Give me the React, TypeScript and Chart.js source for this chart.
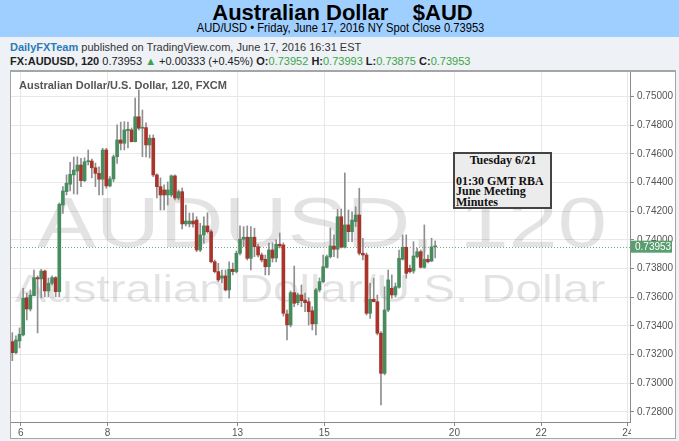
import React, { useEffect, useRef } from "react";
import { Chart, registerables } from "chart.js";

Chart.register(...registerables);

// ---- data (2-hour AUD/USD candles) ----
const opens = [
  0.73290, 0.73213, 0.73295, 0.73337, 0.73597, 0.73518, 0.73611, 0.73737, 0.73728, 0.73783,
  0.73644, 0.73698, 0.73737, 0.73639, 0.74244, 0.74337, 0.74389, 0.74454, 0.74481, 0.74523,
  0.74414, 0.74546, 0.74551, 0.74504, 0.74465, 0.74424, 0.74628, 0.74377, 0.74426, 0.74581,
  0.74698, 0.74675, 0.74763, 0.74768, 0.74686, 0.74860, 0.74780, 0.74784, 0.74663, 0.74710,
  0.74454, 0.74372, 0.74349, 0.74314, 0.74314, 0.74447, 0.74293, 0.74337, 0.74112, 0.74112,
  0.74132, 0.74139, 0.73930, 0.74035, 0.74098, 0.74058, 0.73848, 0.73779, 0.73733, 0.73749,
  0.73651, 0.73795, 0.73779, 0.73907, 0.74005, 0.74019, 0.73872, 0.74019, 0.73953, 0.73895,
  0.73865, 0.73813, 0.73930, 0.73874, 0.73970, 0.73965, 0.73483, 0.73407, 0.73632, 0.73562,
  0.73616, 0.73581, 0.73569, 0.73506, 0.73414, 0.73651, 0.73709, 0.73809, 0.73883, 0.73958,
  0.73935, 0.74162, 0.73949, 0.74105, 0.74058, 0.74128, 0.74174, 0.73907, 0.73895, 0.73488,
  0.73586, 0.73569, 0.73349, 0.73069, 0.73511, 0.73663, 0.73616, 0.73670, 0.73865, 0.73949,
  0.73802, 0.73783, 0.73883, 0.73918, 0.73809, 0.73865, 0.73853, 0.73952,
];
const highs = [
  0.73353, 0.73330, 0.73386, 0.73663, 0.73628, 0.73651, 0.73790, 0.73749, 0.73795, 0.73790,
  0.73735, 0.73749, 0.73744, 0.74258, 0.74372, 0.74454, 0.74542, 0.74579, 0.74581, 0.74570,
  0.74574, 0.74628, 0.74565, 0.74537, 0.74511, 0.74640, 0.74640, 0.74442, 0.74593, 0.74803,
  0.74823, 0.74826, 0.74823, 0.74782, 0.74991, 0.75047, 0.74907, 0.74817, 0.74733, 0.74733,
  0.74461, 0.74433, 0.74384, 0.74405, 0.74454, 0.74454, 0.74349, 0.74363, 0.74244, 0.74188,
  0.74188, 0.74162, 0.74116, 0.74162, 0.74190, 0.74070, 0.73860, 0.73837, 0.73790, 0.73790,
  0.73848, 0.73839, 0.73923, 0.74098, 0.74093, 0.74098, 0.74093, 0.74082, 0.73972, 0.73909,
  0.73895, 0.73979, 0.73979, 0.74000, 0.74049, 0.73979, 0.73511, 0.73644, 0.73818, 0.73630,
  0.73686, 0.73630, 0.73595, 0.73534, 0.73663, 0.73735, 0.73895, 0.73895, 0.74082, 0.74035,
  0.74214, 0.74216, 0.74468, 0.74209, 0.74197, 0.74232, 0.74361, 0.74012, 0.73909, 0.73698,
  0.73733, 0.73616, 0.73360, 0.73674, 0.73790, 0.73756, 0.73700, 0.73930, 0.74035, 0.74035,
  0.73825, 0.73988, 0.73944, 0.73930, 0.74105, 0.73895, 0.74012, 0.73993,
];
const lows = [
  0.73157, 0.73204, 0.73246, 0.73330, 0.73441, 0.73504, 0.73609, 0.73351, 0.73595, 0.73604,
  0.73604, 0.73686, 0.73604, 0.73604, 0.74186, 0.74314, 0.74342, 0.74321, 0.74319, 0.74372,
  0.74407, 0.74523, 0.74433, 0.74372, 0.74314, 0.74314, 0.74361, 0.74370, 0.74407, 0.74535,
  0.74628, 0.74628, 0.74642, 0.74684, 0.74684, 0.74768, 0.74581, 0.74579, 0.74572, 0.74442,
  0.74293, 0.74209, 0.74209, 0.74244, 0.74300, 0.74279, 0.74279, 0.74077, 0.74098, 0.74091,
  0.74090, 0.73918, 0.73918, 0.73977, 0.74047, 0.73839, 0.73770, 0.73709, 0.73700, 0.73644,
  0.73593, 0.73756, 0.73770, 0.73895, 0.73953, 0.73860, 0.73790, 0.73883, 0.73881, 0.73846,
  0.73756, 0.73756, 0.73846, 0.73846, 0.73944, 0.73469, 0.73302, 0.73393, 0.73534, 0.73546,
  0.73534, 0.73499, 0.73407, 0.73372, 0.73337, 0.73637, 0.73700, 0.73804, 0.73874, 0.73883,
  0.73874, 0.73944, 0.73944, 0.73988, 0.73988, 0.74093, 0.73895, 0.73860, 0.73476, 0.73453,
  0.73567, 0.73337, 0.72848, 0.73058, 0.73499, 0.73593, 0.73602, 0.73663, 0.73860, 0.73733,
  0.73770, 0.73767, 0.73874, 0.73804, 0.73802, 0.73839, 0.73848, 0.73875,
];
const closes = [
  0.73213, 0.73302, 0.73342, 0.73593, 0.73518, 0.73616, 0.73737, 0.73728, 0.73783, 0.73644,
  0.73698, 0.73737, 0.73639, 0.74249, 0.74342, 0.74396, 0.74458, 0.74488, 0.74523, 0.74414,
  0.74546, 0.74551, 0.74504, 0.74465, 0.74424, 0.74628, 0.74377, 0.74426, 0.74581, 0.74698,
  0.74675, 0.74768, 0.74773, 0.74686, 0.74860, 0.74780, 0.74784, 0.74663, 0.74710, 0.74454,
  0.74372, 0.74314, 0.74314, 0.74349, 0.74447, 0.74293, 0.74337, 0.74112, 0.74132, 0.74132,
  0.74112, 0.73930, 0.74035, 0.74098, 0.74058, 0.73848, 0.73779, 0.73721, 0.73749, 0.73651,
  0.73795, 0.73779, 0.73907, 0.74005, 0.74019, 0.73872, 0.74019, 0.73953, 0.73895, 0.73860,
  0.73813, 0.73930, 0.73874, 0.73970, 0.73958, 0.73488, 0.73407, 0.73632, 0.73558, 0.73616,
  0.73576, 0.73562, 0.73499, 0.73414, 0.73651, 0.73709, 0.73813, 0.73883, 0.73958, 0.73935,
  0.74162, 0.73949, 0.74105, 0.74058, 0.74139, 0.74174, 0.73907, 0.73895, 0.73488, 0.73586,
  0.73569, 0.73349, 0.73069, 0.73511, 0.73721, 0.73616, 0.73674, 0.73872, 0.73949, 0.73767,
  0.73779, 0.73888, 0.73918, 0.73809, 0.73865, 0.73848, 0.73952, 0.73953,
];

// x axis: day labels and their trading-day index (12 two-hour bars per day)
const dayLabels = ["6", "8", "13", "15", "20", "22", "24"];
const dayIndex = [0, 2, 5, 7, 10, 12, 14];
const BARS_PER_DAY = 12;
const FIRST_DAY_BAR = 2.32;

// y axis tick labels
const yTicks = [0.728, 0.73, 0.732, 0.734, 0.736, 0.738, 0.74, 0.742, 0.744, 0.746, 0.748, 0.75];
const lastPrice = 0.73953;

const GREEN = "#468c5e";
const RED = "#a8352b";

const overlayPlugin = {
  id: "overlay",
  beforeDatasetsDraw(chart: any) {
    const { ctx, chartArea: a } = chart;
    ctx.save();
    ctx.beginPath();
    ctx.rect(a.left, a.top, a.right - a.left, a.bottom - a.top);
    ctx.clip();
    ctx.fillStyle = "rgba(0,0,0,0.11)";
    ctx.textAlign = "center";
    ctx.textBaseline = "alphabetic";
    const stretched = (t: string, cx: number, by: number, font: string, sx: number) => {
      ctx.save();
      ctx.translate(cx, by);
      ctx.scale(sx, 1);
      ctx.font = font;
      ctx.fillText(t, 0, 0);
      ctx.restore();
    };
    stretched("AUDUSD, 120", 322, 247, '71px "Liberation Sans"', 1.245);
    stretched("Australian Dollar/U.S. Dollar", 310, 302, '39px "Liberation Sans"', 1.216);
    // last price dotted line
    const y = Math.round(chart.scales.y.getPixelForValue(lastPrice)) + 0.5;
    ctx.strokeStyle = "#6aae80";
    ctx.lineWidth = 1;
    ctx.setLineDash([1, 2]);
    ctx.beginPath();
    ctx.moveTo(a.left, y);
    ctx.lineTo(a.right, y);
    ctx.stroke();
    ctx.restore();
  },
  afterDraw(chart: any) {
    const { ctx, chartArea: a } = chart;
    const y = chart.scales.y.getPixelForValue(lastPrice);
    ctx.save();
    // the last x label is cut by the price-axis column
    ctx.fillStyle = "#ffffff";
    ctx.fillRect(a.right + 1, a.bottom + 1, 44, 15);
    ctx.fillStyle = "#5a9e70";
    ctx.fillRect(a.right + 1, y - 6, 41, 12);
    ctx.fillStyle = "#ffffff";
    ctx.font = '10px "Liberation Sans"';
    ctx.textBaseline = "middle";
    ctx.textAlign = "left";
    ctx.fillText(lastPrice.toFixed(5), a.right + 5, y + 0.5);
    ctx.restore();
  },
};

export default function App() {
  const ref = useRef<HTMLCanvasElement>(null);

  useEffect(() => {
    const wickData = lows.map((l, i) => ({ x: i, y: [l, highs[i]] }));
    const bodyData = opens.map((o, i) => ({ x: i, y: [o, closes[i]] }));
    const bodyColors = opens.map((o, i) => (closes[i] >= o ? GREEN : RED));

    const chart = new Chart(ref.current!, {
      type: "bar",
      data: {
        datasets: [
          {
            data: bodyData as any,
            backgroundColor: bodyColors,
            barThickness: 3,
            minBarLength: 1,
            grouped: false,
            order: 0,
            borderWidth: 0,
          } as any,
          {
            data: wickData as any,
            backgroundColor: "#8f8f8f",
            barThickness: 1,
            grouped: false,
            order: 1,
            borderWidth: 0,
          } as any,
        ],
      },
      options: {
        responsive: false,
        animation: false,
        events: [],
        devicePixelRatio: 1,
        layout: { padding: { left: 11, top: 72, right: 0, bottom: 0 } },
        plugins: { legend: { display: false }, tooltip: { enabled: false }, title: { display: false } },
        scales: {
          x: {
            type: "linear",
            min: -0.36,
            max: 170.9,
            offset: false,
            afterBuildTicks: (s: any) => {
              s.ticks = dayIndex.map((d) => ({ value: FIRST_DAY_BAR + BARS_PER_DAY * d }));
            },
            afterFit: (s: any) => {
              s.height = 19;
            },
            ticks: {
              autoSkip: false,
              maxRotation: 0,
              padding: 1,
              color: "#555555",
              font: { family: "Liberation Sans", size: 10 },
              callback: (_v: any, i: number) => dayLabels[i],
            },
            grid: { color: "#e8e8e8", tickLength: 4, tickColor: "#8a8a8a", offset: false },
            border: { color: "#8a8a8a" },
          },
          y: {
            type: "linear",
            position: "right",
            min: 0.727292,
            max: 0.751724,
            afterBuildTicks: (s: any) => {
              s.ticks = yTicks.map((v) => ({ value: v }));
            },
            afterFit: (s: any) => {
              s.width = 49;
            },
            ticks: {
              padding: 3,
              color: "#555555",
              font: { family: "Liberation Sans", size: 10 },
              callback: (v: any) => Number(v).toFixed(5),
            },
            grid: { color: "#e8e8e8", tickLength: 4, tickColor: "#8a8a8a" },
            border: { color: "#8a8a8a" },
          },
        },
      },
      plugins: [overlayPlugin],
    });
    return () => chart.destroy();
  }, []);

  const green = { color: "#3aa544" };
  return (
    <div
      style={{
        position: "fixed",
        left: 0,
        top: 0,
        width: 679,
        height: 441,
        overflow: "hidden",
        background: "#eef2f6",
        fontFamily: '"Liberation Sans", Arial, sans-serif',
      }}
    >
      <div style={{ position: "absolute", left: 0, top: 0, width: 679, height: 37, background: "#9fcfff" }} />
      <div
        style={{
          position: "absolute",
          left: 3,
          top: 1,
          width: 679,
          textAlign: "center",
          font: 'bold 22px "Liberation Sans", Arial, sans-serif',
          lineHeight: "24px",
          whiteSpace: "pre",
          color: "#000",
        }}
      >
        {"Australian Dollar    $AUD"}
      </div>
      <div
        style={{
          position: "absolute",
          left: 1,
          top: 21,
          width: 679,
          textAlign: "center",
          fontSize: 13,
          lineHeight: "14px",
          transform: "scaleX(0.86)",
          transformOrigin: "340px 0",
          color: "#000",
        }}
      >
        AUD/USD • Friday, June 17, 2016 NY Spot Close 0.73953
      </div>
      <div style={{ position: "absolute", left: 10, top: 40, fontSize: 11, lineHeight: "14px", color: "#333", whiteSpace: "pre" }}>
        <span style={{ color: "#2b7bb9", fontWeight: "bold" }}>DailyFXTeam</span> published on TradingView.com, June 17, 2016 16:31 EST
      </div>
      <div style={{ position: "absolute", left: 10, top: 54, fontSize: 11, lineHeight: "14px", color: "#222", whiteSpace: "pre" }}>
        <b>FX:AUDUSD, 120</b> 0.73953 <span style={green}>▲</span> +0.00333 (+0.45%) <b>O:</b>
        <span style={green}>0.73952</span> <b>H:</b>
        <span style={green}>0.73993</span> <b>L:</b>
        <span style={green}>0.73875</span> <b>C:</b>
        <span style={green}>0.73953</span>
      </div>
      <div
        style={{
          position: "absolute",
          left: 10,
          top: 70,
          width: 666,
          height: 369,
          boxSizing: "border-box",
          background: "#fff",
          border: "1px solid #a5a5a5",
          borderTop: "2px solid #a5a5a5",
        }}
      />
      <canvas ref={ref} width={679} height={441} style={{ position: "absolute", left: 0, top: 0 }} />
      <div
        style={{
          position: "absolute",
          left: 19,
          top: 78,
          font: 'bold 11px "Liberation Sans", Arial, sans-serif',
          lineHeight: "14px",
          color: "#555",
          whiteSpace: "pre",
        }}
      >
        Australian Dollar/U.S. Dollar, 120, FXCM
      </div>
      <div
        style={{
          position: "absolute",
          left: 453,
          top: 152,
          width: 99,
          height: 57,
          boxSizing: "border-box",
          border: "2px solid #444",
          background: "#ececec",
          fontFamily: '"Liberation Serif", "Times New Roman", serif',
          fontWeight: "bold",
          fontSize: 12,
          color: "#111",
          paddingLeft: 1,
        }}
      >
        <div style={{ textAlign: "center", lineHeight: "12px", marginBottom: 9.5 }}>Tuesday 6/21</div>
        <div style={{ lineHeight: "10.5px" }}>01:30 GMT RBA</div>
        <div style={{ lineHeight: "10.5px" }}>June Meeting</div>
        <div style={{ lineHeight: "10.5px" }}>Minutes</div>
      </div>
    </div>
  );
}
